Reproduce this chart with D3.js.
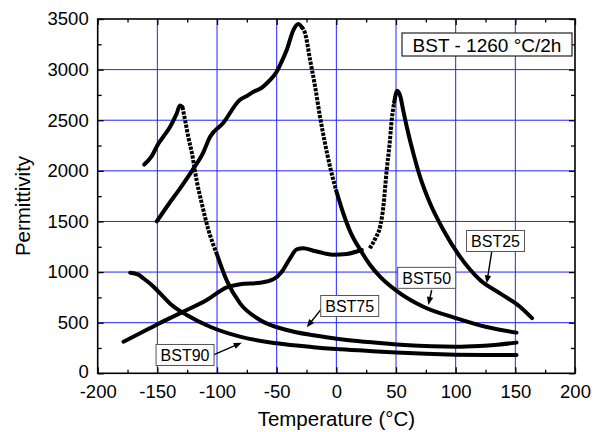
<!DOCTYPE html>
<html><head><meta charset="utf-8">
<script src="https://cdn.jsdelivr.net/npm/d3@7"></script>
<style>
body{margin:0;background:#fff;}
svg{display:block;}
text{font-family:"Liberation Sans",Arial,Helvetica,sans-serif;fill:#000;}
</style>
</head><body>
<svg id="chart" width="605" height="432"></svg>
<script>
// ---------------- data ----------------
const tempTicks = [-200, -150, -100, -50, 0, 50, 100, 150, 200];
const permTicks = [0, 500, 1000, 1500, 2000, 2500, 3000, 3500];
const tempMinor = [-175, -125, -75, -25, 25, 75, 125, 175];
const permMinor = [250, 750, 1250, 1750, 2250, 2750, 3250];

// BST25 : low-temperature branch, gap, then main peak branch
const bst25Temp = [-178.4, -164.5, -149, -128.2, -108.6, -91.8, -80.7, -64, -52.8, -45.7, -38.8, -33.2, -27.6, -19.3, -10, -2.5, 8.7, 18.4, 21.3,
  null,
  28, 33, 36.9, 39.4, 42.2, 44.5, 46.4, 48.5, 51.1, 53.5, 56, 59, 64.5, 70.1, 78.5, 89.7, 103.6, 120.4, 137.2, 153.9, 164];
const bst25Perm = [312, 395, 490, 609, 724, 849, 879, 895, 929, 1004, 1136, 1225, 1235, 1211, 1185, 1172, 1178, 1208, 1218,
  null,
  1235, 1340, 1460, 1646, 2008, 2250, 2502, 2680, 2792, 2740, 2600, 2436, 2173, 1942, 1679, 1416, 1152, 922, 790, 658, 545];

const bst50Temp = [-150.5, -140, -132, -121, -112, -105.8, -95, -81, -75, -68, -64, -57, -50, -45, -41.6, -36, -31.8, -29, -26.2, -22, -17.8, -13.7, -9.5, -5.3, 0, 5.8, 12, 20.3, 28, 36.6, 53.4, 72.9, 100.9, 125, 151];
const bst50Perm = [1500, 1680, 1810, 2000, 2170, 2337, 2470, 2700, 2740, 2790, 2810, 2880, 2979, 3100, 3194, 3391, 3450, 3420, 3359, 3095, 2831, 2535, 2272, 2041, 1800, 1581, 1390, 1215, 1075, 955, 790, 658, 543, 460, 402];

const bst75Temp = [-161, -155, -149, -145, -139.3, -134, -131, -129, -126.8, -124, -121, -117, -112.8, -107.2, -100.2, -91.8, -80.7, -64, -41.6, -19.3, 8.7, 36.6, 57, 80, 100, 120, 135, 151];
const bst75Perm = [2062, 2140, 2272, 2337, 2436, 2560, 2645, 2630, 2503, 2330, 2173, 1900, 1679, 1416, 1180, 915, 691, 527, 428, 375, 330, 300, 280, 266, 262, 270, 283, 303];

const bst90Temp = [-172.8, -166, -161.7, -155, -149, -138, -125.4, -105.8, -80.7, -50, -19.3, 0, 25, 50, 75, 100, 125, 151];
const bst90Perm = [994, 975, 938, 875, 806, 675, 576, 460, 362, 296, 258, 240, 222, 205, 192, 184, 181, 180];

const seriesNames = ["BST25", "BST50", "BST75", "BST90"];
const legendTitle = "BST - 1260 °C/2h";

// ---------------- layout / style config ----------------
const W = 605, H = 432;
const M = {l: 97.7, r: 575, t: 19, b: 373.3};
const dottedRanges = {BST25: [28, 47], BST50: [-29, -4], BST75: [-127, -103], BST90: null};
// label annotations (data coordinates): box centre, arrow start, arrow end
const labelAnno = {
  BST25: {c: [133.4, 1307], a: [130.2, 1201], b: [126, 889]},
  BST50: {c: [75.7, 943],  a: [79.9, 823],  b: [77.1, 675]},
  BST75: {c: [11.2, 665],  a: [-12.2, 642], b: [-24.8, 454]},
  BST90: {c: [-126.8, 181], a: [-103, 181], b: [-79.3, 302]}
};

const svg = d3.select("#chart");
svg.append("rect").attr("width", W).attr("height", H).attr("fill", "#fff");

const x = d3.scaleLinear().domain([-200, 200]).range([M.l, M.r]);
const y = d3.scaleLinear().domain([0, 3500]).range([M.b, M.t]);

// grid
const grid = svg.append("g").attr("stroke", "#2424ff").attr("stroke-width", 1);
tempTicks.slice(1, -1).forEach(t => {
  grid.append("line").attr("x1", x(t)).attr("x2", x(t)).attr("y1", M.t).attr("y2", M.b);
});
permTicks.slice(1, -1).forEach(p => {
  grid.append("line").attr("x1", M.l).attr("x2", M.r).attr("y1", y(p)).attr("y2", y(p));
});

// curves
function zipSeries(ts, ps) {
  const parts = []; let cur = [];
  ts.forEach((t, i) => {
    if (t === null || ps[i] === null) { if (cur.length) parts.push(cur); cur = []; }
    else cur.push([t, ps[i]]);
  });
  if (cur.length) parts.push(cur);
  return parts;
}
const allSeries = {
  BST25: zipSeries(bst25Temp, bst25Perm),
  BST50: zipSeries(bst50Temp, bst50Perm),
  BST75: zipSeries(bst75Temp, bst75Perm),
  BST90: zipSeries(bst90Temp, bst90Perm)
};
const line = d3.line().x(d => x(d[0])).y(d => y(d[1])).curve(d3.curveMonotoneX);
const curveG = svg.append("g").attr("fill", "none").attr("stroke", "#000");
seriesNames.forEach(name => {
  const rng = dottedRanges[name];
  allSeries[name].forEach(pts => {
    let i0 = -1, i1 = -1;
    if (rng && pts[0][0] <= rng[0] && pts[pts.length - 1][0] >= rng[1]) {
      pts.forEach((d, i) => { if (d[0] <= rng[0]) i0 = i; });
      for (let i = pts.length - 1; i >= 0; i--) if (pts[i][0] >= rng[1]) i1 = i;
    }
    const solidParts = [], dotParts = [];
    if (i0 >= 0 && i1 > i0) {
      if (i0 > 0) solidParts.push(pts.slice(0, i0 + 1));
      dotParts.push(pts.slice(i0, i1 + 1));
      if (i1 < pts.length - 1) solidParts.push(pts.slice(i1));
    } else solidParts.push(pts);
    solidParts.forEach(p => curveG.append("path").attr("d", line(p))
      .attr("stroke-width", 4).attr("stroke-linecap", "round").attr("stroke-linejoin", "round"));
    dotParts.forEach(p => curveG.append("path").attr("d", line(p))
      .attr("stroke-width", 4).attr("stroke-dasharray", "3.2,1.3"));
  });
});

// axes (ticks pointing inward)
function styleAxis(g) {
  g.select(".domain").remove();
  g.selectAll(".tick line").attr("stroke", "#000").attr("stroke-width", 1.3);
  g.selectAll("text").style("font-size", "18.5px").attr("fill", "#000");
}
const tickFmt = d => String(d);
svg.append("g").attr("transform", `translate(0,${M.b})`)
  .call(d3.axisBottom(x).tickValues(tempTicks).tickSize(-6).tickPadding(12).tickFormat(tickFmt)).call(styleAxis);
svg.append("g").attr("transform", `translate(0,${M.b})`)
  .call(d3.axisBottom(x).tickValues(tempMinor).tickSize(-3.5).tickFormat("")).call(styleAxis);
svg.append("g").attr("transform", `translate(0,${M.t})`)
  .call(d3.axisTop(x).tickValues(tempTicks).tickSize(-6).tickFormat("")).call(styleAxis);
svg.append("g").attr("transform", `translate(0,${M.t})`)
  .call(d3.axisTop(x).tickValues(tempMinor).tickSize(-3.5).tickFormat("")).call(styleAxis);
const yAxisG = svg.append("g").attr("transform", `translate(${M.l},0)`)
  .call(d3.axisLeft(y).tickValues(permTicks).tickSize(-6).tickPadding(9).tickFormat(tickFmt)).call(styleAxis);
// nudge the "0" label slightly up so it clears the x-axis labels
yAxisG.selectAll(".tick text").filter(d => d === 0).attr("dy", "0.2em");
svg.append("g").attr("transform", `translate(${M.l},0)`)
  .call(d3.axisLeft(y).tickValues(permMinor).tickSize(-4).tickFormat("")).call(styleAxis);
svg.append("g").attr("transform", `translate(${M.r},0)`)
  .call(d3.axisRight(y).tickValues(permTicks).tickSize(-6).tickFormat("")).call(styleAxis);
svg.append("g").attr("transform", `translate(${M.r},0)`)
  .call(d3.axisRight(y).tickValues(permMinor).tickSize(-4).tickFormat("")).call(styleAxis);

// frame
svg.append("rect").attr("x", M.l).attr("y", M.t).attr("width", M.r - M.l).attr("height", M.b - M.t)
  .attr("fill", "none").attr("stroke", "#000").attr("stroke-width", 1.6);

// axis titles
svg.append("text").attr("x", (M.l + M.r) / 2).attr("y", 426).attr("text-anchor", "middle")
  .style("font-size", "20.5px").text("Temperature (°C)");
svg.append("text").attr("transform", `translate(30,206) rotate(-90)`).attr("text-anchor", "middle")
  .style("font-size", "20.5px").text("Permittivity");

// legend box
const lg = svg.append("g");
lg.append("rect").attr("x", 402).attr("y", 33).attr("width", 170).attr("height", 23)
  .attr("fill", "#fff").attr("stroke", "#222").attr("stroke-width", 1.2);
lg.append("text").attr("x", 487).attr("y", 51.5).attr("text-anchor", "middle")
  .style("font-size", "19px").text(legendTitle);

// series labels with arrows
const annoG = svg.append("g");
seriesNames.forEach(name => {
  const a = labelAnno[name];
  const cx = x(a.c[0]), cy = y(a.c[1]);
  const x1 = x(a.a[0]), y1 = y(a.a[1]), x2 = x(a.b[0]), y2 = y(a.b[1]);
  const dx = x2 - x1, dy = y2 - y1, L = Math.hypot(dx, dy);
  const ux = dx / L, uy = dy / L, hl = 8, hw = 3.2;
  annoG.append("line").attr("x1", x1).attr("y1", y1).attr("x2", x2 - ux * hl * 0.7).attr("y2", y2 - uy * hl * 0.7)
    .attr("stroke", "#000").attr("stroke-width", 1.4);
  annoG.append("path").attr("d",
    `M${x2},${y2}L${x2 - ux * hl - uy * hw},${y2 - uy * hl + ux * hw}L${x2 - ux * hl + uy * hw},${y2 - uy * hl - ux * hw}Z`)
    .attr("fill", "#000");
  annoG.append("rect").attr("x", cx - 29).attr("y", cy - 10.5).attr("width", 58).attr("height", 21)
    .attr("fill", "#fff").attr("stroke", "#555").attr("stroke-width", 1);
  annoG.append("text").attr("x", cx).attr("y", cy + 6).attr("text-anchor", "middle")
    .style("font-size", "16px").text(name);
});
</script>
</body></html>
